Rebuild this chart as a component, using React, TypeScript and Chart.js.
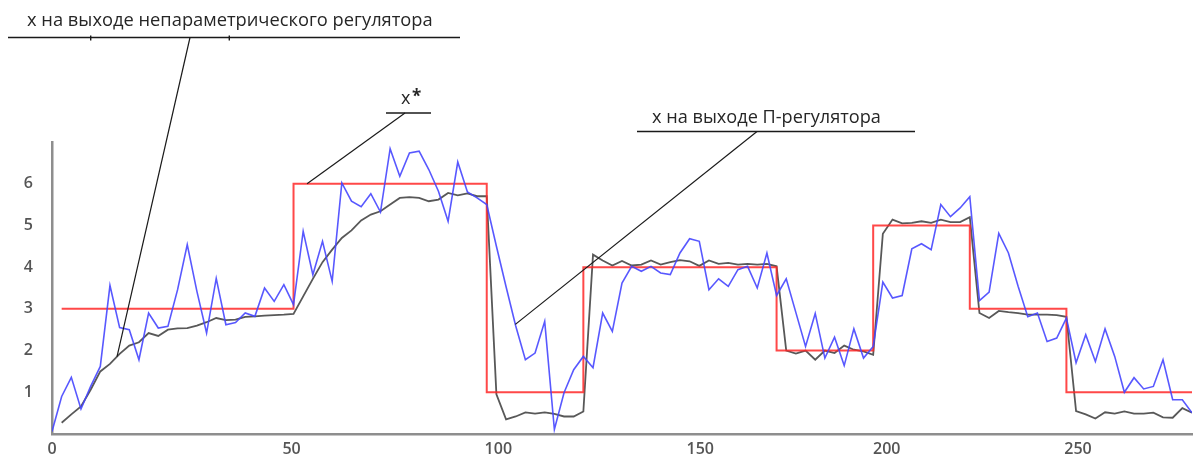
import React, { useEffect, useRef } from "react";
import { Chart, registerables } from "chart.js";

Chart.register(...registerables);

// Output of the P-controller, one value per sample (k = 0 … 118)
const pControllerOutput = [
  0.06, 0.9, 1.36, 0.6, 1.14, 1.62, 3.56, 2.55, 2.5, 1.78,
  2.9, 2.54, 2.58, 3.46, 4.54, 3.42, 2.42, 3.73, 2.62, 2.67,
  2.9, 2.82, 3.5, 3.18, 3.58, 3.1, 4.86, 3.82, 4.62, 3.66,
  6.02, 5.58, 5.45, 5.76, 5.32, 6.84, 6.18, 6.74, 6.78, 6.34,
  5.82, 5.1, 6.52, 5.8, 5.66, 5.5, 4.5, 3.53, 2.59, 1.78,
  1.94, 2.7, 0.11, 0.99, 1.54, 1.86, 1.59, 2.9, 2.46, 3.62,
  4.02, 3.9, 4.02, 3.86, 3.82, 4.34, 4.68, 4.62, 3.46, 3.72,
  3.54, 3.94, 4.02, 3.5, 4.34, 3.32, 3.72, 2.91, 2.1, 2.89,
  1.82, 2.32, 1.64, 2.52, 1.82, 2.1, 3.64, 3.26, 3.32, 4.44,
  4.56, 4.42, 5.5, 5.21, 5.42, 5.69, 3.2, 3.4, 4.81, 4.34,
  3.54, 2.81, 2.9, 2.22, 2.3, 2.78, 1.71, 2.38, 1.74, 2.52,
  1.86, 1.0, 1.35, 1.08, 1.14, 1.78, 0.82, 0.82, 0.51,
];

// Output of the nonparametric controller (no value at k = 0)
const nonparametricOutput: (number | null)[] = [
  null, 0.27, 0.47, 0.66, 1.06, 1.5, 1.68, 1.92, 2.12, 2.2,
  2.42, 2.35, 2.5, 2.53, 2.54, 2.6, 2.68, 2.78, 2.73, 2.74,
  2.81, 2.82, 2.84, 2.85, 2.86, 2.88, 3.3, 3.72, 4.12, 4.42,
  4.7, 4.88, 5.12, 5.26, 5.34, 5.5, 5.66, 5.68, 5.66, 5.58,
  5.62, 5.78, 5.72, 5.77, 5.7, 5.7, 0.95, 0.35, 0.42, 0.52,
  0.49, 0.52, 0.48, 0.42, 0.42, 0.54, 4.3, 4.16, 4.04, 4.15,
  4.04, 4.06, 4.16, 4.06, 4.12, 4.17, 4.14, 4.03, 4.16, 4.08,
  4.1, 4.06, 4.08, 4.06, 4.08, 4.02, 2.0, 1.93, 2.0, 1.78,
  2.0, 1.94, 2.12, 2.02, 1.98, 1.9, 4.8, 5.14, 5.05, 5.06,
  5.1, 5.06, 5.14, 5.08, 5.08, 5.2, 2.9, 2.78, 2.95, 2.92,
  2.9, 2.86, 2.86, 2.86, 2.85, 2.81, 0.55, 0.47, 0.37, 0.52,
  0.49, 0.54, 0.49, 0.49, 0.51, 0.4, 0.39, 0.62, 0.51,
];

// Setpoint x*: level held from each start sample on
const setpointStart = [1, 25, 45, 55, 75, 85, 95, 105, 118];
const setpointLevel = [3, 6, 1, 4, 2, 5, 3, 1, 1];

const yTickValues = [1, 2, 3, 4, 5, 6];
const xTickValues = [0, 24.8, 46.2, 67.1, 86.4, 106.2];
const xTickLabels = ["0", "50", "100", "150", "200", "250"];

const TEXT_FONT = '"Open Sans", "DejaVu Sans", sans-serif';

type SeriesKey = "blue" | "gray" | "setpoint";

interface Callout {
  text: string;
  star?: boolean;
  textLeft: number;
  textRight: number;
  baseline: number;
  lineY: number;
  lineFrom: number;
  lineTo: number;
  joinX: number;
  series: SeriesKey;
  atX: number;
  marks?: number[];
}

const callouts: Callout[] = [
  {
    text: "x на выходе непараметрического регулятора",
    textLeft: 27, textRight: 433, baseline: 25.5,
    lineY: 37.5, lineFrom: 8, lineTo: 460, joinX: 190,
    series: "gray", atX: 6.73, marks: [90.7, 229.3],
  },
  {
    text: "x", star: true,
    textLeft: 401, textRight: 411, baseline: 103.5,
    lineY: 113, lineFrom: 386, lineTo: 431, joinX: 405,
    series: "setpoint", atX: 26.4,
  },
  {
    text: "x на выходе П-регулятора",
    textLeft: 652, textRight: 881, baseline: 123,
    lineY: 131.5, lineFrom: 637, lineTo: 915, joinX: 757,
    series: "blue", atX: 47.96,
  },
];

function valueAt(series: SeriesKey, x: number): number {
  if (series === "setpoint") {
    let level = setpointLevel[0];
    for (let i = 0; i < setpointStart.length; i++) {
      if (setpointStart[i] <= x) level = setpointLevel[i];
    }
    return level;
  }
  const arr = series === "blue" ? pControllerOutput : nonparametricOutput;
  const i0 = Math.floor(x);
  const t = x - i0;
  const a = (arr[i0] ?? arr[i0 + 1]) as number;
  const b = (arr[i0 + 1] ?? a) as number;
  return a + t * (b - a);
}

function fitFont(ctx: CanvasRenderingContext2D, text: string, width: number) {
  ctx.font = `400 20px ${TEXT_FONT}`;
  const w = ctx.measureText(text).width;
  const size = (20 * width) / w;
  ctx.font = `400 ${size}px ${TEXT_FONT}`;
}

const calloutPlugin = {
  id: "callouts",
  afterDraw(chart: any) {
    const { ctx, scales } = chart;
    const xs = scales.x;
    const ys = scales.y;
    ctx.save();
    ctx.fillStyle = "#262626";
    ctx.strokeStyle = "#1a1a1a";
    ctx.textBaseline = "alphabetic";
    ctx.textAlign = "left";
    for (const c of callouts) {
      if (c.star) {
        ctx.font = `400 18px ${TEXT_FONT}`;
        ctx.fillText(c.text, c.textLeft, c.baseline);
        ctx.font = `700 17px ${TEXT_FONT}`;
        ctx.fillText("*", c.textRight + 1, c.baseline - 2);
      } else {
        fitFont(ctx, c.text, c.textRight - c.textLeft);
        ctx.fillText(c.text, c.textLeft, c.baseline);
      }
      // underline shelf
      ctx.lineWidth = 1.6;
      ctx.beginPath();
      ctx.moveTo(c.lineFrom, c.lineY);
      ctx.lineTo(c.lineTo, c.lineY);
      ctx.stroke();
      if (c.marks) {
        ctx.lineWidth = 1.4;
        for (const m of c.marks) {
          ctx.beginPath();
          ctx.moveTo(m, c.lineY - 2);
          ctx.lineTo(m, c.lineY + 3);
          ctx.stroke();
        }
      }
      // leader to the curve
      const px = xs.getPixelForValue(c.atX);
      const py = ys.getPixelForValue(valueAt(c.series, c.atX));
      ctx.lineWidth = 1.2;
      ctx.beginPath();
      ctx.moveTo(c.joinX, c.lineY);
      ctx.lineTo(px, py);
      ctx.stroke();
    }
    ctx.restore();
  },
};

const tickFont = { family: TEXT_FONT, size: 16, weight: 600 as const };

export default function App() {
  const ref = useRef<HTMLCanvasElement>(null);

  useEffect(() => {
    const canvas = ref.current;
    if (!canvas) return;
    const chart = new Chart(canvas, {
      type: "line",
      data: {
        datasets: [
          {
            label: "x на выходе П-регулятора",
            data: pControllerOutput.map((v, i) => ({ x: i, y: v })),
            borderColor: "rgba(70, 70, 255, 0.9)",
            borderWidth: 1.6,
            pointRadius: 0,
            tension: 0,
          },
          {
            label: "x*",
            data: setpointStart.map((s, i) => ({ x: s, y: setpointLevel[i] })),
            borderColor: "rgba(255, 40, 40, 0.85)",
            borderWidth: 2,
            pointRadius: 0,
            stepped: "before",
          },
          {
            label: "x на выходе непараметрического регулятора",
            data: nonparametricOutput
              .map((v, i) => ({ x: i, y: v }))
              .filter((p) => p.y !== null) as { x: number; y: number }[],
            borderColor: "rgba(70, 70, 70, 0.9)",
            borderWidth: 1.8,
            pointRadius: 0,
            tension: 0,
          },
        ],
      },
      options: {
        responsive: false,
        animation: false,
        devicePixelRatio: 1,
        layout: { padding: { top: 142, right: 2, bottom: 0, left: 0 } },
        plugins: {
          legend: { display: false },
          tooltip: { enabled: false },
        },
        scales: {
          x: {
            type: "linear",
            min: 0,
            max: 118,
            grid: { display: false, drawTicks: false },
            border: { display: true, color: "#8e8e8e", width: 2.5 },
            afterBuildTicks: (axis: any) => {
              axis.ticks = xTickValues.map((v) => ({ value: v }));
            },
            afterFit: (axis: any) => {
              axis.height = 31;
            },
            ticks: {
              autoSkip: false,
              maxRotation: 0,
              padding: 6,
              color: "#555555",
              font: tickFont,
              callback: (_v: any, index: number) => xTickLabels[index],
            },
          },
          y: {
            type: "linear",
            min: 0,
            max: 7,
            grid: { display: false, drawTicks: false },
            border: { display: true, color: "#8e8e8e", width: 2.5 },
            afterBuildTicks: (axis: any) => {
              axis.ticks = yTickValues.map((v) => ({ value: v }));
            },
            afterFit: (axis: any) => {
              axis.width = 52;
            },
            ticks: {
              padding: 19,
              color: "#555555",
              font: tickFont,
              callback: (v: any) => String(v),
            },
          },
        },
      },
      plugins: [calloutPlugin],
    });
    return () => chart.destroy();
  }, []);

  return (
    <div
      style={{
        position: "fixed",
        left: 0,
        top: 0,
        width: 1194,
        height: 465,
        background: "#ffffff",
      }}
    >
      <canvas
        ref={ref}
        width={1194}
        height={465}
        style={{ display: "block", width: 1194, height: 465 }}
      />
    </div>
  );
}
